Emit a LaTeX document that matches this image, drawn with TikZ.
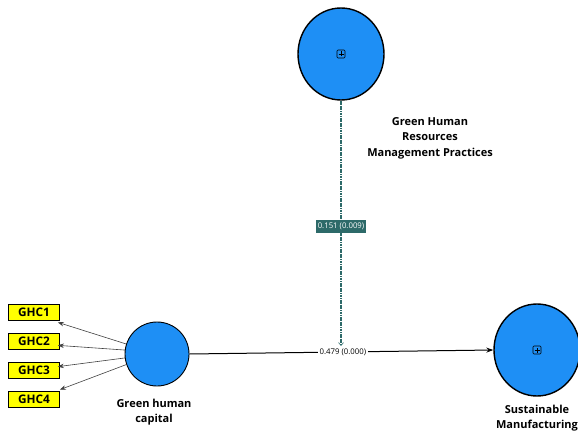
\documentclass[tikz,border=0pt]{standalone}
\usepackage{fontspec}
\setmainfont{Open Sans}
\usetikzlibrary{shapes.geometric,arrows.meta,calc}
\definecolor{lvblue}{HTML}{1E8FF5}
\definecolor{pathteal}{HTML}{2D6A69}
\definecolor{indyellow}{HTML}{FFFF00}
\tikzset{
  latent/.style={ellipse, draw=black, line width=1.4pt, fill=lvblue,
    minimum width=86pt, minimum height=92pt, inner sep=0pt},
  latentsmall/.style={latent, line width=0.9pt, minimum width=64pt, minimum height=64pt},
  indicator/.style={rectangle, draw=black, line width=0.7pt, fill=indyellow,
    minimum width=51pt, minimum height=16pt, inner sep=0pt,
    font=\bfseries\fontsize{11.8}{12}\selectfont},
  lvlabel/.style={align=center, font=\bfseries\fontsize{11}{15.5}\selectfont},
  loading/.style={draw=black!75, line width=0.6pt, -{Stealth[length=6pt,width=4.5pt]}},
  structural/.style={draw=black, line width=1pt, -{Stealth[length=7pt,width=5pt]}},
  moderation/.style={draw=pathteal, line width=1.1pt, dash pattern=on 1.2pt off 0.5pt,
    -{Straight Barb[length=3pt,width=5pt,line width=0.6pt]}},
  coef/.style={fill=white, inner sep=1.5pt, font=\fontsize{7.8}{8}\selectfont},
  coefdark/.style={fill=pathteal, text=white, inner xsep=2pt, inner ysep=3pt,
    font=\fontsize{7.8}{8}\selectfont},
}
% small boxed plus sign marking a collapsed construct
\newcommand{\boxplus}[1]{%
  \draw[black, line width=0.6pt, rounded corners=1pt] ($(#1)+(-4pt,-4pt)$) rectangle ($(#1)+(4pt,4pt)$);
  \draw[black, line width=0.6pt] ($(#1)+(-2.5pt,0)$) -- ($(#1)+(2.5pt,0)$) ($(#1)+(0,-2.5pt)$) -- ($(#1)+(0,2.5pt)$);}
\begin{document}
\begin{tikzpicture}[x=1pt,y=-1pt]
  \useasboundingbox (0,0) rectangle (578,433);

  % latent variables
  \node[latent] (ghrm) at (341,54) {};
  \node[latentsmall] (ghc) at (157,354) {};
  \node[latent] (sm) at (537,350) {};
  \boxplus{ghrm}
  \boxplus{sm}

  % latent variable names
  \node[lvlabel] (ghrmlab) at (430,138) {Green Human\\Resources\\Management Practices};
  \node[lvlabel] (ghclab) at (154,412) {Green human\\capital};
  \node[lvlabel] (smlab) at (537,418) {Sustainable\\Manufacturing};

  % indicators
  \node[indicator] (ghc1) at (34,312) {GHC1};
  \node[indicator] (ghc2) at (34,341) {GHC2};
  \node[indicator] (ghc3) at (34,370) {GHC3};
  \node[indicator] (ghc4) at (34,399) {GHC4};

  % outer loadings
  \draw[loading] (ghc.162) -- ($(ghc1.south east)+(-2,2)$);
  \draw[loading] (ghc.173) -- ($(ghc2.south east)+(-2,-4)$);
  \draw[loading] (ghc.187) -- ($(ghc3.north east)+(-2,5)$);
  \draw[loading] (ghc.199) -- ($(ghc4.north east)+(0,-1)$);

  % structural paths
  \draw[structural] (ghc.east) -- node[coef, pos=0.505] (p1) {0.479 (0.000)} (sm.west);
  \coordinate (modend) at (341,346);
  \draw[moderation] (ghrm.south) -- node[coefdark, pos=0.513] (p2) {0.151 (0.009)} (modend);
\end{tikzpicture}
\end{document}
